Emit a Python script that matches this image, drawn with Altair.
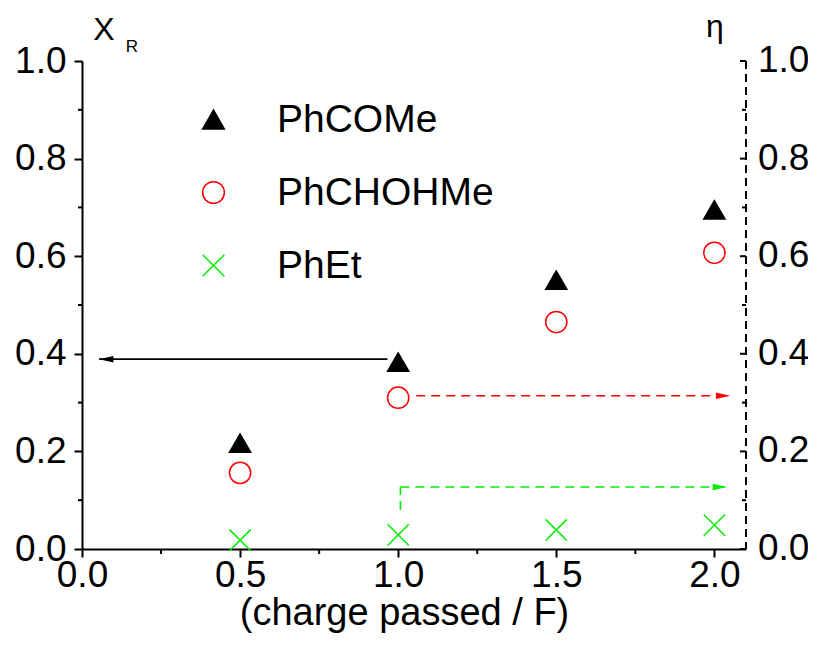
import altair as alt
import pandas as pd

# ---- data ----
charge = [0.5, 1.0, 1.5, 2.0]
phcome = [0.217, 0.383, 0.551, 0.695]
phchohme = [0.156, 0.310, 0.465, 0.607]
phet = [0.018, 0.029, 0.039, 0.049]
series_names = ["PhCOMe", "PhCHOHMe", "PhEt"]

y_ticks = [0.0, 0.2, 0.4, 0.6, 0.8, 1.0]
y_minor = [0.1, 0.3, 0.5, 0.7, 0.9]
x_ticks = [0.0, 0.5, 1.0, 1.5, 2.0]
x_minor = [0.25, 0.75, 1.25, 1.75]

# arrows (start x, tip x, level)
black_arrow = {"x": [0.966], "x2": [0.054], "y": [0.389]}
red_arrow = {"x": [1.057], "x2": [2.05], "y": [0.314]}
green_arrow = {"x": [1.007], "x2": [2.04], "y": [0.127]}
green_riser = {"x": [1.007], "y": [0.08], "y2": [0.127]}

W, H = 664, 488
FONT = "Liberation Sans"
TICK_FS = 37
XDOM = [0, 2.1]
YDOM = [0, 1]

xs = alt.Scale(domain=XDOM, nice=False, zero=False)
ys = alt.Scale(domain=YDOM, nice=False)

x_axis = alt.Axis(values=x_ticks, format=".1f", tickSize=8, labelPadding=0, labelFlush=False,
                  title="(charge passed / F)", titlePadding=1, titleX=322, grid=False)
y_axis = alt.Axis(values=y_ticks, format=".1f", tickSize=8, labelPadding=8, labelFlush=False,
                  title=None, grid=False)

def X(field):
    return alt.X(field, scale=xs, axis=x_axis, title="(charge passed / F)")

def Y(field):
    return alt.Y(field, scale=ys, axis=y_axis, title=None)

pts = pd.DataFrame({
    "charge": charge * 3,
    "value": phcome + phchohme + phet,
    "series": [s for s in series_names for _ in charge],
})

XPATH = "M-1,-1L1,1M-1,1L1,-1"
leg = alt.Legend(title=None, orient="none", legendX=112, legendY=39,
                 labelFont=FONT, labelFontSize=39, labelColor="black", labelLimit=400, padding=0,
                 rowPadding=33, labelOffset=44, symbolSize=470, symbolStrokeWidth=1.5)

points = alt.Chart(pts).mark_point(strokeWidth=1.5, opacity=1, size=450).encode(
    x=X("charge:Q"),
    y=Y("value:Q"),
    stroke=alt.Stroke("series:N",
                      scale=alt.Scale(domain=series_names, range=["#000000", "#ff0000", "#00ee00"]), legend=leg),
    fill=alt.Fill("series:N",
                  scale=alt.Scale(domain=series_names, range=["#000000", "transparent", "transparent"]), legend=leg),
    shape=alt.Shape("series:N",
                    scale=alt.Scale(domain=series_names, range=["triangle-up", "circle", XPATH]), legend=leg),
)

def hrule(d, color, dash=None):
    kw = dict(color=color, strokeWidth=1.6)
    if dash:
        kw["strokeDash"] = dash
    return alt.Chart(pd.DataFrame(d)).mark_rule(**kw).encode(
        x=X("x:Q"), x2="x2:Q", y=Y("y:Q"))

LEFT_HEAD = "M0,0L2.2,-0.5L2.2,0.5Z"
RIGHT_HEAD = "M0,0L-2.2,-0.5L-2.2,0.5Z"

def head(d, color, path):
    return alt.Chart(pd.DataFrame(d)).mark_point(
        shape=path, filled=True, color=color, size=169, opacity=1, strokeWidth=0
    ).encode(x=X("x2:Q"), y=Y("y:Q"))

riser = alt.Chart(pd.DataFrame(green_riser)).mark_rule(
    color="#00ee00", strokeWidth=1.6, strokeDash=[9, 6]
).encode(x=X("x:Q"), y=Y("y:Q"), y2="y2:Q")

left_minor = alt.Chart(pd.DataFrame({"v": y_minor})).mark_rule(color="black", strokeWidth=2).encode(
    y=Y("v:Q"), x=alt.value(-4), x2=alt.value(0))
bottom_minor = alt.Chart(pd.DataFrame({"v": x_minor})).mark_rule(color="black", strokeWidth=2).encode(
    x=X("v:Q"), y=alt.value(H), y2=alt.value(H + 5))

# right-hand (eta) axis drawn on the same scale
right_domain = alt.Chart(pd.DataFrame({"a": [0]})).mark_rule(
    color="black", strokeWidth=2, strokeDash=[8, 5]
).encode(x=alt.value(W), y=alt.value(0), y2=alt.value(H))
right_major = alt.Chart(pd.DataFrame({"v": y_ticks})).mark_rule(color="black", strokeWidth=2).encode(
    y=Y("v:Q"), x=alt.value(W - 6), x2=alt.value(W))
right_minor = alt.Chart(pd.DataFrame({"v": y_minor})).mark_rule(color="black", strokeWidth=2).encode(
    y=Y("v:Q"), x=alt.value(W - 4), x2=alt.value(W))
right_labels = alt.Chart(pd.DataFrame({"v": y_ticks})).mark_text(
    font=FONT, fontSize=TICK_FS, align="left", baseline="middle", color="black"
).encode(y=Y("v:Q"), x=alt.value(W + 12), text=alt.Text("v:Q", format=".1f"))

one = pd.DataFrame({"a": [0]})
t_x = alt.Chart(one).mark_text(text="X", font=FONT, fontSize=32, align="center", baseline="alphabetic").encode(
    x=alt.value(22), y=alt.value(-21))
t_r = alt.Chart(one).mark_text(text="R", font=FONT, fontSize=17, align="center", baseline="alphabetic").encode(
    x=alt.value(50), y=alt.value(-9))
t_eta = alt.Chart(one).mark_text(text="η", font=FONT, fontSize=32, align="center", baseline="alphabetic").encode(
    x=alt.value(633), y=alt.value(-24))

chart = alt.layer(
    points,
    hrule(black_arrow, "black"),
    hrule(red_arrow, "#ff0000", [9, 6]),
    hrule(green_arrow, "#00ee00", [9, 6]),
    riser,
    head(black_arrow, "black", LEFT_HEAD),
    head(red_arrow, "#ff0000", RIGHT_HEAD),
    head(green_arrow, "#00ee00", RIGHT_HEAD),
    left_minor, bottom_minor,
    right_domain, right_major, right_minor, right_labels,
    t_x, t_r, t_eta,
).properties(
    width=W, height=H,
    autosize=alt.AutoSizeParams(type="none"),
    padding={"left": 74, "top": 53, "right": 62, "bottom": 88},
).configure_view(strokeWidth=0).configure_axis(
    labelFont=FONT, labelFontSize=TICK_FS, labelColor="black",
    titleFont=FONT, titleFontSize=38, titleFontWeight="normal", titleColor="black",
    domainColor="black", domainWidth=2, tickColor="black", tickWidth=2,
)

chart.save("out.html", embed_options={"renderer": "svg", "actions": False})
